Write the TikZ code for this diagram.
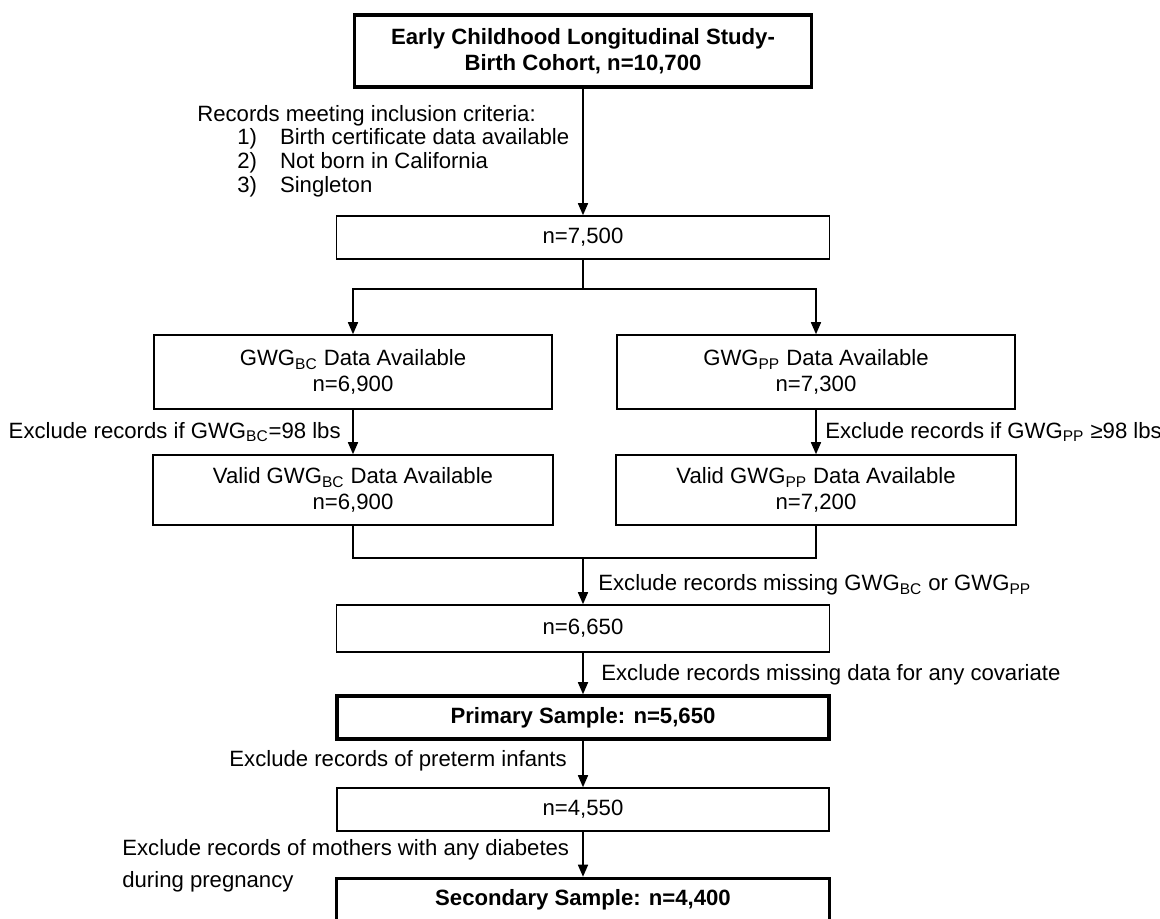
\documentclass[tikz,border=0pt]{standalone}
\usepackage{fontspec}
\setmainfont{Liberation Sans}
\usetikzlibrary{arrows.meta}

\newcommand{\gwg}[1]{GWG\textsubscript{#1}}

\begin{document}
\begin{tikzpicture}[x=0.2mm, y=-0.2mm,
    font=\fontsize{12.6}{14.5}\selectfont,
    box/.style={draw, line width=0.9pt, inner sep=0pt, align=center},
    mainbox/.style={box, line width=2pt, font=\fontsize{12.6}{14.5}\selectfont\bfseries},
    arr/.style={line width=0.9pt, -{Triangle[length=2.4mm, width=2mm]}},
    lbl/.style={inner sep=0pt}]

    \useasboundingbox (0, 0) rectangle (1160, 919);
    \clip (0, 0) rectangle (1160, 919);

    % boxes
    \node [mainbox, minimum width=91.4mm, minimum height=14.4mm] (cohort) at (583, 51) {Early Childhood Longitudinal Study-\\Birth Cohort, n=10,700};
    \node [box, minimum width=98.6mm, minimum height=8.6mm] (incl) at (583, 237.5) {n=7,500};
    \node [box, minimum width=79.6mm, minimum height=14.8mm] (bc) at (353, 372) {\gwg{BC} Data Available\\n=6,900};
    \node [box, minimum width=79.6mm, minimum height=14.8mm] (pp) at (816, 372) {\gwg{PP} Data Available\\n=7,300};
    \node [box, minimum width=80mm, minimum height=14mm] (validbc) at (353, 490) {Valid \gwg{BC} Data Available\\n=6,900};
    \node [box, minimum width=80mm, minimum height=14mm] (validpp) at (816, 490) {Valid \gwg{PP} Data Available\\n=7,200};
    \node [box, minimum width=98.6mm, minimum height=9.4mm] (both) at (583, 628.5) {n=6,650};
    \node [mainbox, minimum width=98.4mm, minimum height=8.6mm] (primary) at (583, 717.5) {Primary Sample: n=5,650};
    \node [box, minimum width=98.4mm, minimum height=8.6mm] (term) at (583, 809.5) {n=4,550};
    \node [mainbox, minimum width=98.6mm, minimum height=8.6mm] (secondary) at (583, 900) {Secondary Sample: n=4,400};

    % labels
    \node [lbl, anchor=west] (crit) at (197, 116) {Records meeting inclusion criteria:};
    \node [lbl, anchor=west] (crit1) at (237, 139) {1)\hspace{4.6mm}Birth certificate data available};
    \node [lbl, anchor=west] (crit2) at (237, 163) {2)\hspace{4.6mm}Not born in California};
    \node [lbl, anchor=west] (crit3) at (237, 187) {3)\hspace{4.6mm}Singleton};
    \node [lbl, anchor=east] (exbc) at (341, 432) {Exclude records if \gwg{BC}=98 lbs};
    \node [lbl, anchor=west] (expp) at (825, 432) {Exclude records if \gwg{PP} ≥98 lbs};
    \node [lbl, anchor=west] (exmiss) at (598, 585) {Exclude records missing \gwg{BC} or \gwg{PP}};
    \node [lbl, anchor=west] (excov) at (601, 675) {Exclude records missing data for any covariate};
    \node [lbl, anchor=east] (expre) at (567, 761) {Exclude records of preterm infants};
    \node [lbl, anchor=west] (exdia) at (122, 850) {Exclude records of mothers with any diabetes};
    \node [lbl, anchor=west] (exdia2) at (122, 882) {during pregnancy};

    % connectors
    \coordinate (split) at (583, 289);
    \coordinate (merge) at (583, 558);

    \draw [arr] (cohort) -- (incl);
    \draw [line width=0.9pt] (incl) -- (split);
    \draw [arr] (split) -| (bc);
    \draw [arr] (split) -| (pp);
    \draw [arr] (bc) -- (validbc);
    \draw [arr] (pp) -- (validpp);
    \draw [line width=0.9pt] (validbc) |- (merge);
    \draw [line width=0.9pt] (validpp) |- (merge);
    \draw [arr] (merge) -- (both);
    \draw [arr] (both) -- (primary);
    \draw [arr] (primary) -- (term);
    \draw [arr] (term) -- (secondary);

\end{tikzpicture}
\end{document}
